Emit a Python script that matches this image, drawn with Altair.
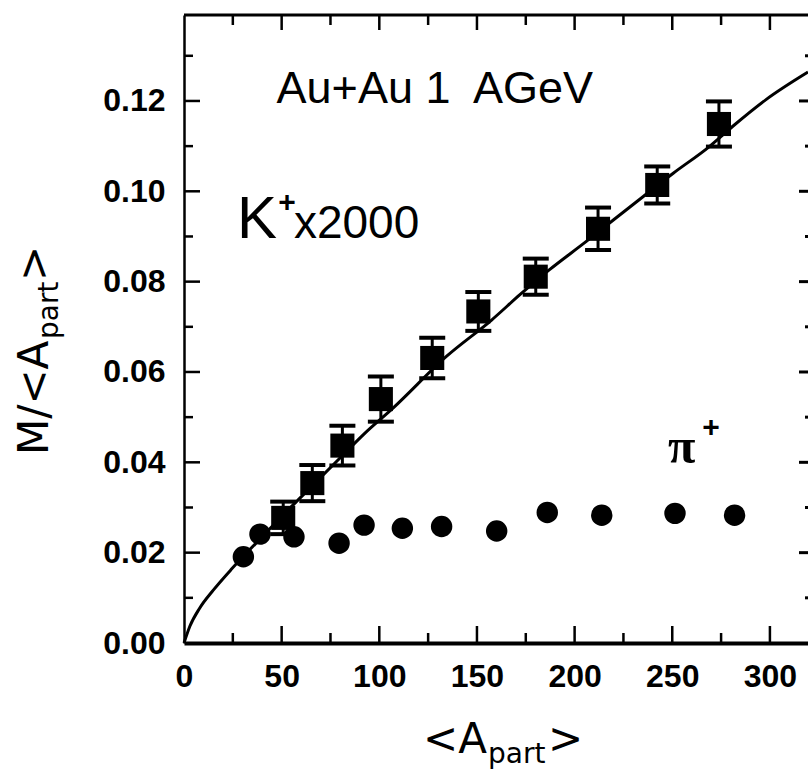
import altair as alt
import pandas as pd

# ---------------- data ----------------
k_x = [50.8, 65.7, 81.1, 100.8, 127.1, 150.7, 180.1, 212.0, 242.3, 273.9]
k_y = [0.0277, 0.0354, 0.0437, 0.0540, 0.0631, 0.0734, 0.0811, 0.0917, 0.1014, 0.1149]
k_err = [0.0036, 0.0040, 0.0044, 0.0050, 0.0045, 0.0043, 0.0040, 0.0047, 0.0041, 0.0050]

pi_x = [30.4, 38.9, 56.3, 79.4, 92.2, 111.8, 131.9, 160.1, 186.0, 213.9, 251.4, 281.9]
pi_y = [0.0191, 0.0241, 0.0235, 0.0221, 0.0261, 0.0254, 0.0258, 0.0248, 0.0289, 0.0283, 0.0287, 0.0283]

curve_x = [0, 3, 8, 15, 24, 30, 40, 50, 65, 80, 92, 107, 134.5, 157.5, 172, 187, 206,
           220, 235, 250.5, 269, 281, 298, 319.5]
curve_y = [0, 0.0037, 0.0077, 0.0117, 0.0162, 0.0190, 0.0235, 0.0280, 0.0345, 0.0410,
           0.0462, 0.0520, 0.0635, 0.0715, 0.0771, 0.0826, 0.0889, 0.0937, 0.0988,
           0.1040, 0.1099, 0.1144, 0.1203, 0.1264]

x_major_ticks = [0, 50, 100, 150, 200, 250, 300]
x_minor_ticks = [25, 75, 125, 175, 225, 275]
y_major_ticks = [0.00, 0.02, 0.04, 0.06, 0.08, 0.10, 0.12]
y_minor_ticks = [0.01, 0.03, 0.05, 0.07, 0.09, 0.11, 0.13]

# ---------------- layout ----------------
W, H = 624, 628
XMAX, YMAX = 319.5, 0.13903
xs = alt.Scale(domain=[0, XMAX], nice=False, zero=False)
ys = alt.Scale(domain=[0, YMAX], nice=False, zero=False)

LABEL_FONT = "Liberation Sans"
TITLE_FONT = "DejaVu Sans"

x_axis = alt.Axis(values=x_major_ticks, ticks=False, grid=False, domainColor="black",
                  domainWidth=4, labelFont=LABEL_FONT, labelFontSize=32, labelFontWeight="bold",
                  labelColor="black", labelPadding=18, title=None, labelFlush=False)
y_axis = alt.Axis(values=y_major_ticks, ticks=False, grid=False, domainColor="black",
                  domainWidth=2.5, labelFont=LABEL_FONT, labelFontSize=32, labelFontWeight="bold",
                  labelColor="black", labelPadding=19, title=None, format=".2f", labelFlush=False)


def X(field):
    return alt.X(f"{field}:Q", scale=xs, axis=x_axis)


def Y(field):
    return alt.Y(f"{field}:Q", scale=ys, axis=y_axis)


k_df = pd.DataFrame({"x": k_x, "y": k_y, "err": k_err})
k_df["lo"] = k_df["y"] - k_df["err"]
k_df["hi"] = k_df["y"] + k_df["err"]
pi_df = pd.DataFrame({"x": pi_x, "y": pi_y})
curve_df = pd.DataFrame({"x": curve_x, "y": curve_y})

layers = []

# fit curve
layers.append(alt.Chart(curve_df).mark_line(color="black", strokeWidth=3, interpolate="monotone")
              .encode(x=X("x"), y=Y("y")))

# K+ error bars
layers.append(alt.Chart(k_df).mark_rule(color="black", strokeWidth=3)
              .encode(x=X("x"), y=Y("lo"), y2="hi"))
for col in ["lo", "hi"]:
    layers.append(alt.Chart(k_df).mark_tick(color="black", orient="horizontal", size=26,
                                            thickness=4, opacity=1)
                  .encode(x=X("x"), y=Y(col)))
# K+ squares
layers.append(alt.Chart(k_df).mark_point(shape="square", filled=True, size=580, color="black",
                                         opacity=1)
              .encode(x=X("x"), y=Y("y")))
# pi+ circles
layers.append(alt.Chart(pi_df).mark_circle(size=460, color="black", opacity=1)
              .encode(x=X("x"), y=Y("y")))

# inward ticks
bx_major = pd.DataFrame({"v": x_major_ticks[1:]})
bx_minor = pd.DataFrame({"v": x_minor_ticks})
top_major = pd.DataFrame({"v": x_major_ticks[1:]})
top_minor = pd.DataFrame({"v": x_minor_ticks})
ly_major = pd.DataFrame({"v": y_major_ticks[1:]})
ly_minor = pd.DataFrame({"v": y_minor_ticks})

def xtick(df, y0, y1, w=2.5):
    return alt.Chart(df).mark_rule(color="black", strokeWidth=w).encode(
        x=X("v"), y=alt.value(y0), y2=alt.value(y1))

def ytick(df, x0, x1, w=2.5):
    return alt.Chart(df).mark_rule(color="black", strokeWidth=w).encode(
        y=Y("v"), x=alt.value(x0), x2=alt.value(x1))

layers += [
    xtick(bx_major, H, H - 17),
    xtick(bx_minor, H, H - 10),
    xtick(top_major, 0, 15),
    xtick(top_minor, 0, 10),
    ytick(ly_major, 0, 16),
    ytick(ly_minor, 0, 9),
    ytick(ly_major, W, W - 9, 3),
    ytick(ly_minor, W, W - 3, 3),
]

# top frame line
dummy = alt.Data(values=[{}])
layers.append(alt.Chart(dummy).mark_rule(color="black", strokeWidth=3).encode(
    x=alt.value(0), x2=alt.value(W), y=alt.value(0)))


# annotations inside the plot (data coordinates)
def note(text, x, y, size, font=LABEL_FONT, weight="normal", align="left", baseline="alphabetic"):
    df = pd.DataFrame({"x": [x], "y": [y], "t": [text]})
    return alt.Chart(df).mark_text(font=font, fontSize=size, fontWeight=weight, color="black",
                                   align=align, baseline=baseline).encode(
        x=X("x"), y=Y("y"), text="t:N")

layers += [
    note("Au+Au 1\u00a0 AGeV", 47.4, 0.1195, 45),
    note("K", 27.1, 0.0897, 60),
    note("+", 52.7, 0.0973, 30, align="center", baseline="middle", weight="bold"),
    note("x2000", 56.3, 0.0897, 46),
    note("\u03c0", 247.8, 0.0399, 50, font="Liberation Serif", weight="bold"),
    note("+", 269.8, 0.0476, 30, align="center", baseline="middle", weight="bold"),
]


# axis titles (pixel positions relative to plot area)
def ptext(text, x, y, size, angle=0):
    kw = dict(font=TITLE_FONT, fontSize=size, color="black", align="left", baseline="alphabetic")
    if angle:
        kw["angle"] = angle
    return alt.Chart(dummy).mark_text(**kw).encode(
        x=alt.value(x), y=alt.value(y), text=alt.value(text))

layers += [
    ptext("<A", 239, 738, 42),
    ptext("part", 304, 748, 28),
    ptext(">", 364, 738, 42),
    ptext("M/<A", -136, 440, 42, angle=270),
    ptext("part", -126, 324, 28, angle=270),
    ptext(">", -136, 266, 42, angle=270),
]

chart = alt.layer(*layers).properties(
    width=W, height=H,
    autosize=alt.AutoSizeParams(type="none"),
    padding={"left": 184, "top": 15, "right": 0, "bottom": 130},
).configure_view(stroke=None).configure(background="white")

chart.save("out.html", embed_options={"renderer": "svg", "actions": False})
